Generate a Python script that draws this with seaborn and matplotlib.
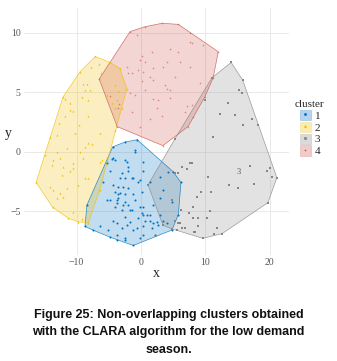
import numpy as np
import pandas as pd
import matplotlib
matplotlib.use("Agg")
import matplotlib.pyplot as plt
import seaborn as sns
from matplotlib.patches import Patch, Polygon
from matplotlib.lines import Line2D

# ---------------- data ----------------
c1_x = [-0.6, 5.0, 6.2, 5.8, 4.8, -1.2, -4.8, -8.7, -8.4, -5.3, -4.4, -2.5,
        -4.5, -4.0, -0.9, -2.2, 0.3, -4.8, -2.0, -5.9, -4.3, -3.6, -2.5, -1.4, -0.5,
        -4.0, -3.3, -3.6, -5.3, -4.8, -2.5, -2.0, -3.7, -4.0, -3.0, -1.4, -0.2, 0.2,
        0.9, -2.5, -0.5, 1.4, -2.2, -4.3, -6.4, -7.5, -5.1, -1.2, 0.3, 1.9, 2.6,
        -3.7, -2.5, -0.2,
        -0.9, -4.3, -2.5, -2.0, 0.3, -3.0, -1.2, -3.3, -0.2, -2.8, -2.0, 1.4, -3.6,
        -2.5, -1.2, 0.2, -3.7, -0.9, -2.8, -1.7, 0.3, 1.9, 3.0, 4.8, 3.4, 3.0, 4.2,
        0.3, 1.4, 3.0, 3.4, 4.0, 2.5, 0.6, -1.7, -3.7, -3.0, -0.6, 1.7, -3.7, 0.3,
        2.2, -2.5]
c1_y = [1.0, -1.7, -2.6, -5.3, -6.6, -7.9, -7.2, -6.3, -4.5, -1.0, 0.4, 0.8,
        -0.6, -0.7, 0.0, -0.9, -0.9, -1.6, -1.6, -2.6, -2.8, -3.0, -2.2, -2.2, -2.6,
        -3.4, -3.5, -3.9, -4.1, -4.1, -4.2, -4.5, -4.3, -4.7, -4.9, -4.9, -4.7, -5.2,
        -5.3, -5.5, -5.6, -5.8, -6.2, -5.8, -6.3, -6.6, -6.6, -6.6, -6.3, -6.0, -6.2,
        -7.4, -7.3, -7.3,
        0.1, -0.5, -0.7, -1.3, -1.6, -1.8, -2.2, -2.2, -2.4, -3.0, -3.1, -2.6, -3.6,
        -3.6, -3.6, -3.4, -4.1, -4.1, -4.5, -4.9, -4.7, -4.5, -3.9, -4.2, -3.2, -2.1, -1.7,
        -5.3, -5.3, -5.3, -5.8, -6.0, -5.9, -5.8, -5.9, -6.0, -6.4, -6.4, -6.4, -7.0, -7.0,
        -7.0, -7.4]

c2_x = [-7.1, -4.8, -3.3, -2.2, -3.0, -4.0, -5.3, -6.4, -8.2, -9.8, -11.3, -13.7,
        -16.3, -14.9, -14.1, -12.1, -9.5,
        -6.5, -7.8, -6.2, -9.0, -8.4, -7.9, -8.7, -9.1, -8.2, -11.0, -11.8, -11.1,
        -10.5, -11.8, -8.2, -12.8, -9.6,
        -4.0, -3.6, -5.3, -3.7, -4.0, -4.5,
        -10.2, -6.4, -13.0, -8.2, -8.7, -7.6, -11.5, -13.0, -9.5, -13.7, -12.6, -9.0,
        -13.8, -10.6, -12.1, -11.0, -10.6, -12.3, -8.7, -8.2, -9.8, -14.1, -13.7,
        -11.5, -12.6, -12.1, -13.0, -6.4, -6.1, -10.6, -9.2]
c2_y = [8.0, 7.5, 7.0, 5.3, 3.7, 1.8, -0.7, -3.2, -6.0, -5.9, -5.6, -4.7,
        -2.6, -0.3, 1.2, 4.6, 6.7,
        7.4, 7.1, 6.6, 5.7, 5.7, 5.2, 5.2, 4.6, 4.3, 4.1, 4.4, 3.5,
        3.4, 3.0, 3.0, 2.4, 2.2,
        5.6, 5.1, 4.8, 4.3, 3.7, 4.1,
        1.6, 1.6, 1.4, 0.7, 0.4, 0.6, 0.3, 0.0, 0.0, -0.7, -0.5, -0.5,
        -1.1, -1.0, -1.3, -1.6, -1.4, -2.0, -2.2, -2.2, -2.8, -3.0, -3.2,
        -3.1, -3.5, -3.8, -3.9, -0.9, -0.7, -5.1, -5.7]

c3_x = [14.0, 15.8, 18.2, 20.0, 21.1, 19.7, 12.6, 9.6, 4.8, 3.4, 1.1, 5.3, 11.0,
        15.2, 15.7, 13.5, 12.3, 14.6, 17.2, 15.8, 9.9, 11.2, 7.6, 6.4, 7.1, 5.3,
        5.7, 10.4, 16.9, 19.6, 20.3, 13.7, 17.5, 15.1, 9.3, 10.9, 8.7, 8.1, 6.2,
        10.7, 7.5, 8.9, 8.1, 10.2, 8.9, 11.8, 6.4, 8.2, 11.3, 5.6, 5.7, 7.9,
        5.3, 6.1, 6.8, 8.4, 4.8]
c3_y = [7.5, 6.0, 2.2, -1.4, -2.2, -4.3, -6.9, -7.3, -6.5, -6.2, -2.8, 1.1, 6.2,
        5.2, 4.9, 4.1, 3.2, 3.1, 2.7, 2.2, 4.3, 1.2, -1.0, -1.3, -1.5, -1.8,
        -1.8, -2.1, -1.2, -1.6, -2.1, -2.8, -2.7, -3.1, -3.4, -3.4, -3.8, -4.7, -4.9,
        -5.0, -5.2, -5.6, -5.6, -5.6, -6.3, -6.4, -6.4, -6.8, -6.9, -6.6, -6.0, -1.0,
        -5.8, -6.0, -6.4, -6.8, -4.1]

c4_x = [-6.5, -1.7, 0.6, 3.3, 5.8, 7.6, 9.6, 12.0, 11.2, 9.9, 8.1, 7.3, 3.4, -3.7,
        -0.6, 7.6, 7.9, 5.7, 1.7, 4.5, 0.2, -0.2, 0.6, 4.0, 6.1, 1.9, 3.4, 7.6,
        -0.5, -1.4, -2.0, 0.3, -2.2, 5.3, 1.9, 0.2, 1.4, 9.2, 0.6, 3.7, 4.0, 4.5,
        -1.7, -0.9, 1.9, 2.6, 4.5, 7.1, 2.5, 3.3, 1.4, 6.8, -1.4, 7.9, -0.2,
        -3.6, -4.8, -3.4]
c4_y = [6.1, 10.1, 10.5, 10.8, 10.7, 10.0, 9.0, 8.4, 6.2, 4.6, 2.9, 2.1, 0.5, 2.1,
        9.8, 9.2, 9.1, 8.4, 8.4, 8.6, 8.0, 7.7, 7.5, 7.5, 7.5, 7.0, 7.1, 7.1,
        6.9, 6.6, 6.6, 6.7, 7.1, 6.3, 6.0, 5.9, 6.3, 5.8, 5.2, 5.6, 5.3, 5.2,
        4.9, 4.8, 4.4, 4.3, 4.5, 3.8, 3.7, 3.0, 2.7, 3.3, 3.3, 3.9, 2.1,
        3.7, 4.7, 4.0]

clusters = ["1", "2", "3", "4"]
colors = ["#0073C2", "#EFC000", "#868686", "#CD534C"]
markers = ["o", "^", "s", "+"]
x_ticks = [-10, 0, 10, 20]
y_ticks = [-5, 0, 5, 10]
center_label = "3"
center_xy = (15.2, -1.7)

caption_lines = ["Figure 25: Non-overlapping clusters obtained",
                 "with the CLARA algorithm for the low demand",
                 "season."]

# ---------------- build table ----------------
frames = []
for lab, xs, ys in zip(clusters, [c1_x, c2_x, c3_x, c4_x], [c1_y, c2_y, c3_y, c4_y]):
    frames.append(pd.DataFrame({"x": xs, "y": ys, "cluster": lab}))
df = pd.concat(frames, ignore_index=True)


def convex_hull(pts):
    pts = sorted(set(map(tuple, pts)))
    if len(pts) < 3:
        return pts

    def cross(o, a, b):
        return (a[0] - o[0]) * (b[1] - o[1]) - (a[1] - o[1]) * (b[0] - o[0])
    lower, upper = [], []
    for p in pts:
        while len(lower) >= 2 and cross(lower[-2], lower[-1], p) <= 0:
            lower.pop()
        lower.append(p)
    for p in reversed(pts):
        while len(upper) >= 2 and cross(upper[-2], upper[-1], p) <= 0:
            upper.pop()
        upper.append(p)
    return lower[:-1] + upper[:-1]


# ---------------- figure ----------------
sns.set_theme(style="white")
plt.rcParams["font.family"] = ["Liberation Serif", "DejaVu Serif"]

W, H = 337, 361
fig = plt.figure(figsize=(W / 100, H / 100), dpi=100)
fig.patch.set_facecolor("white")
ax = fig.add_axes([24 / W, 1 - 255 / H, 265 / W, 247 / H])
ax.set_facecolor("white")

for lab, col in zip(clusters, colors):
    sub = df[df["cluster"] == lab]
    hull = convex_hull(sub[["x", "y"]].values)
    ax.add_patch(Polygon(hull, closed=True, facecolor=col, alpha=0.24,
                         edgecolor="none", zorder=1))
    ax.add_patch(Polygon(hull, closed=True, facecolor="none",
                         edgecolor=col, lw=0.5, alpha=0.8, zorder=2))

for lab, col, mk in zip(clusters, colors, markers):
    sub = df[df["cluster"] == lab]
    if mk == "+":
        sns.scatterplot(data=sub, x="x", y="y", marker=mk, color=col, s=3,
                        linewidth=0.4, alpha=0.6, ax=ax, zorder=3, legend=False)
    else:
        sns.scatterplot(data=sub, x="x", y="y", marker=mk, color=col, s=2.2,
                        linewidth=0, ax=ax, zorder=3, legend=False)

ax.text(center_xy[0], center_xy[1], center_label, fontsize=6, color="#555555",
        ha="center", va="center", zorder=4)

ax.set_xlim(-18.17, 22.98)
ax.set_ylim(-8.70, 12.08)
ax.set_xticks(x_ticks)
ax.set_yticks(y_ticks)
ax.grid(True, color="#e6e6e6", lw=0.6, zorder=0)
ax.set_axisbelow(True)
for s in ax.spines.values():
    s.set_visible(False)
ax.tick_params(axis="both", length=1.5, width=0.4, color="#999999",
               labelsize=7, labelcolor="#555555", pad=1)
ax.set_xlabel("x", fontsize=10, labelpad=0)
ax.set_ylabel("y", fontsize=10, rotation=0, va="center", ha="center")
ax.yaxis.set_label_coords((8 - 24) / 265, (255 - 133) / 247)

handles = [(Patch(facecolor=c, alpha=0.3, edgecolor=c, lw=0.5),
            Line2D([], [], marker=m, color=c, ls="", markersize=1.5,
                   markeredgewidth=0.5))
           for c, m in zip(colors, markers)]
fig.legend(handles, clusters, title="cluster", loc="upper left",
           bbox_to_anchor=(295 / W, 1 - 100 / H), frameon=False,
           fontsize=8, title_fontsize=8, handlelength=1.05, handleheight=1.05,
           handletextpad=0.3, labelspacing=0.08, borderpad=0, borderaxespad=0)

for i, line in enumerate(caption_lines):
    fig.text(0.5, 1 - (315 + 17.5 * i) / H, line, ha="center", va="center",
             fontsize=9, fontweight="bold", family="Liberation Sans",
             color="#111111")

fig.savefig("out.png", dpi=100, facecolor="white")
